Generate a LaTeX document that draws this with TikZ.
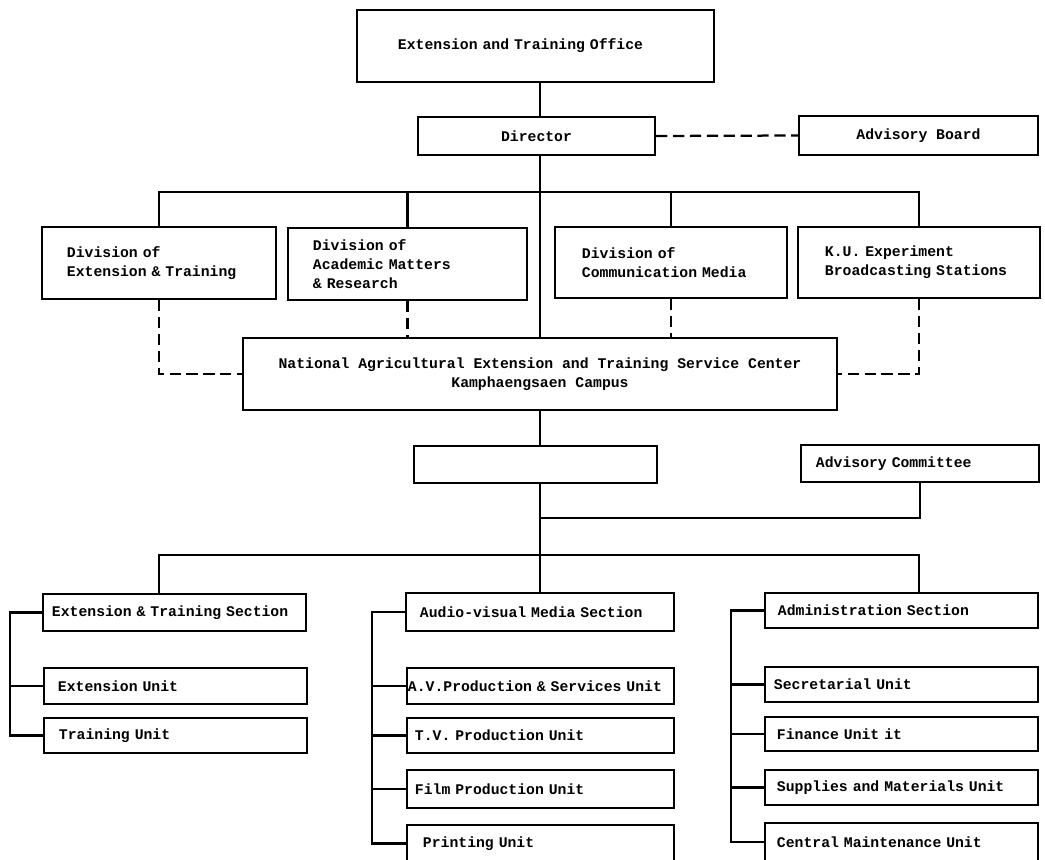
\documentclass[tikz,border=0pt]{standalone}
\usepackage{fontspec}
\newfontfamily\typefont[WordSpace={1,0,0}]{Liberation Mono}
\begin{document}
\begin{tikzpicture}[
  x=0.025cm, y=-0.025cm,
  box/.style={draw=black, line width=1.6pt, inner xsep=0pt, inner ysep=0pt,
    font=\typefont\bfseries\fontsize{10.5}{13.5}\selectfont},
  cbox/.style={box, align=center},
  lbox/.style={box, align=left},
  link/.style={draw=black, line width=1.6pt},
  dashlink/.style={link, dash pattern=on 8pt off 4pt}
]
  \useasboundingbox (0,0) rectangle (1045,860);

  % top levels
  \node[lbox, text width=6.875cm, inner xsep=1.025cm, minimum height=1.8cm] (eto) at (535.5,46) {Extension and Training Office};
  \node[cbox, minimum width=5.925cm, minimum height=0.95cm] (dir) at (536.5,136) {Director};
  \node[cbox, minimum width=5.975cm, minimum height=0.975cm] (adv) at (918.5,135.5) {Advisory Board};

  % divisions
  \node[lbox, text width=4.6cm, inner xsep=0.625cm, minimum height=1.8cm] (divET) at (159,263) {Division of\\Extension \& Training};
  \node[lbox, text width=4.725cm, inner xsep=0.625cm, minimum height=1.8cm] (divAM) at (407.5,264) {Division of\\Academic Matters\\\& Research};
  \node[lbox, text width=4.45cm, inner xsep=0.675cm, minimum height=1.775cm] (divCM) at (671,262.5) {Division of\\Communication Media};
  \node[lbox, text width=4.7cm, inner xsep=0.675cm, minimum height=1.775cm] (ku) at (919,262.5) {K.U. Experiment\\Broadcasting Stations};

  % center
  \node[cbox, minimum width=14.85cm, minimum height=1.8cm] (natc) at (540,374) {National Agricultural Extension and Training Service Center\\Kamphaengsaen Campus};
  \node[box, minimum width=6.075cm, minimum height=0.925cm] (blank) at (535.5,464.5) {};
  \node[lbox, text width=5.2cm, inner xsep=0.375cm, minimum height=0.925cm] (advc) at (920,463.5) {Advisory Committee};

  % sections
  \node[lbox, text width=6.125cm, inner xsep=0.225cm, minimum height=0.925cm] (ets) at (174.5,612.5) {Extension \& Training Section};
  \node[lbox, text width=6cm, inner xsep=0.35cm, minimum height=0.95cm] (avs) at (540,612) {Audio-visual Media Section};
  \node[lbox, text width=6.175cm, inner xsep=0.325cm, minimum height=0.875cm] (adm) at (901.5,610.5) {Administration Section};

  % units
  \node[lbox, text width=5.875cm, inner xsep=0.35cm, minimum height=0.9cm] (extu) at (175.5,686) {Extension Unit};
  \node[lbox, text width=5.825cm, inner xsep=0.375cm, minimum height=0.875cm] (tru) at (175.5,735.5) {Training Unit};

  \node[lbox, text width=6.625cm, inner xsep=0.025cm, minimum height=0.9cm] (avp) at (540.5,686) {A.V.Production \& Services Unit};
  \node[lbox, text width=6.275cm, inner xsep=0.2cm, minimum height=0.875cm] (tvp) at (540.5,735.5) {T.V. Production Unit};
  \node[lbox, text width=6.275cm, inner xsep=0.2cm, minimum height=0.95cm] (film) at (540.5,789) {Film Production Unit};
  \node[lbox, text width=5.875cm, inner xsep=0.4cm, minimum height=0.925cm] (print) at (540.5,843.5) {Printing Unit};

  \node[lbox, text width=6.375cm, inner xsep=0.225cm, minimum height=0.875cm] (sec) at (901.5,684.5) {Secretarial Unit};
  \node[lbox, text width=6.225cm, inner xsep=0.3cm, minimum height=0.85cm] (fin) at (901.5,734) {Finance Unit it};
  \node[lbox, text width=6.225cm, inner xsep=0.3cm, minimum height=0.875cm] (sup) at (901.5,787.5) {Supplies and Materials Unit};
  \node[lbox, text width=6.225cm, inner xsep=0.3cm, minimum height=0.95cm] (cmu) at (901.5,842) {Central Maintenance Unit};

  % helper points
  \coordinate (bus) at (540,192);
  \coordinate (join) at (540,518);
  \coordinate (lowbus) at (540,555);
  \coordinate (etsrail) at (10,0);
  \coordinate (avrail) at (372,0);
  \coordinate (admrail) at (731,0);

  % solid lines
  \draw[link] (eto.south -| natc) -- (dir.north -| natc);
  \draw[link] (dir.south -| natc) -- (natc.north);
  \draw[link] (divET.north) |- (bus) -| (ku.north);
  \draw[link] (divAM.north) -- (divAM.north |- bus);
  \draw[link] (divCM.north) -- (divCM.north |- bus);
  \draw[link] (natc.south) -- (blank.north -| natc);
  \draw[link] (blank.south -| natc) -- (avs.north);
  \draw[link] (advc.south) |- (join);
  \draw[link] (ets.north -| divET) |- (lowbus) -| (adm.north -| ku);

  % dashed lines
  \draw[dashlink] (dir.east) -- (adv.west);
  \draw[dashlink] (divET.south) |- (natc.west);
  \draw[dashlink] (divAM.south) -- (divAM.south |- natc.north);
  \draw[dashlink] (divCM.south) -- (divCM.south |- natc.north);
  \draw[dashlink] (ku.south) |- (natc.east);

  % unit brackets
  \draw[link] (ets.west) -- (ets.west -| etsrail) |- (tru.west);
  \draw[link] (extu.west) -- (extu.west -| etsrail);
  \draw[link] (avs.west) -- (avs.west -| avrail) |- (print.west);
  \foreach \u in {avp,tvp,film}
    \draw[link] (\u.west) -- (\u.west -| avrail);
  \draw[link] (adm.west) -- (adm.west -| admrail) |- (cmu.west);
  \foreach \u in {sec,fin,sup}
    \draw[link] (\u.west) -- (\u.west -| admrail);
\end{tikzpicture}
\end{document}
